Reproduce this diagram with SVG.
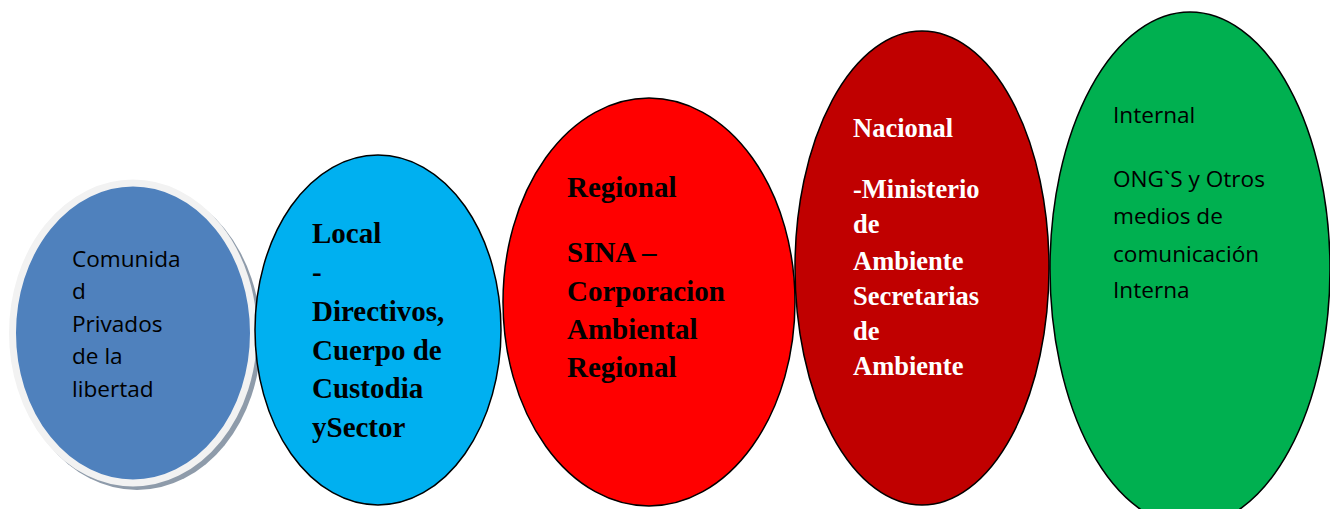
<svg xmlns="http://www.w3.org/2000/svg" width="1330" height="509" viewBox="0 0 1330 509">
<style>
.ol{stroke:#000;stroke-width:1.5}
.sans{font-family:"Open Sans","DejaVu Sans",sans-serif;font-size:22.6px;fill:#000}
.serif{font-family:"Liberation Serif","Times New Roman",serif;font-weight:bold;font-size:29px;fill:#000}
.serifw{font-family:"Liberation Serif","Times New Roman",serif;font-weight:bold;font-size:26.5px;fill:#fff}
</style>
<rect width="1330" height="509" fill="#fff"/>
<g id="connectors"/>
<g id="node-comunidad">
<ellipse cx="137" cy="337" rx="124" ry="153" fill="#8E9BAA"/>
<ellipse cx="133" cy="333" rx="120.5" ry="150" fill="#4F81BD" stroke="#F2F2F2" stroke-width="7"/>
<text class="sans"><tspan x="72" y="267">Comunida</tspan><tspan x="72" y="299">d</tspan><tspan x="72" y="332">Privados</tspan><tspan x="72" y="364">de la</tspan><tspan x="72" y="397">libertad</tspan></text>
</g>
<g id="node-local">
<ellipse class="ol" cx="378" cy="330" rx="123" ry="175" fill="#00B0F0"/>
<text class="serif"><tspan x="312" y="243">Local</tspan><tspan x="312" y="282">-</tspan><tspan x="312" y="321">Directivos,</tspan><tspan x="312" y="360">Cuerpo de</tspan><tspan x="312" y="398">Custodia</tspan><tspan x="312" y="437">ySector</tspan></text>
</g>
<g id="node-regional">
<ellipse class="ol" cx="649" cy="302" rx="146" ry="204" fill="#FF0000"/>
<text class="serif"><tspan x="567" y="197">Regional</tspan><tspan x="567" y="262">SINA –</tspan><tspan x="567" y="301">Corporacion</tspan><tspan x="567" y="339">Ambiental</tspan><tspan x="567" y="377">Regional</tspan></text>
</g>
<g id="node-nacional">
<ellipse class="ol" cx="922" cy="268" rx="127" ry="237" fill="#C00000"/>
<text class="serifw"><tspan x="853" y="137">Nacional</tspan><tspan x="853" y="198">-Ministerio</tspan><tspan x="853" y="233">de</tspan><tspan x="853" y="270">Ambiente</tspan><tspan x="853" y="305">Secretarias</tspan><tspan x="853" y="340">de</tspan><tspan x="853" y="375">Ambiente</tspan></text>
</g>
<g id="node-internal">
<ellipse class="ol" cx="1190" cy="269" rx="140" ry="257" fill="#00B050"/>
<text class="sans"><tspan x="1113" y="123">Internal</tspan><tspan x="1113" y="187">ONG`S y Otros</tspan><tspan x="1113" y="224">medios de</tspan><tspan x="1113" y="262">comunicación</tspan><tspan x="1113" y="298">Interna</tspan></text>
</g>
</svg>
